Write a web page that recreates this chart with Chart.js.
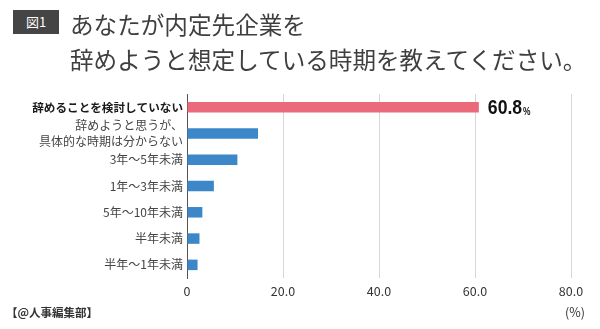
<!DOCTYPE html>
<html>
<head>
<meta charset="utf-8">
<script src="https://cdn.jsdelivr.net/npm/chart.js@4"></script>
<style>
  html, body { margin: 0; padding: 0; background: #fff; }
  #wrap { position: relative; width: 600px; height: 329px; overflow: hidden; font-family: "Noto Sans CJK JP", sans-serif; }
  #chart { position: absolute; left: 0; top: 0; }
  .badge { position: absolute; left: 13px; top: 10px; width: 46px; height: 24px; background: #454545; color: #fff; font-size: 13px; line-height: 24px; text-align: center; }
  .title { position: absolute; left: 70px; top: 7px; font-size: 23.6px; line-height: 35px; color: #3f3f3f; white-space: nowrap; }
  .source { position: absolute; left: 6px; top: 304px; font-size: 11.5px; line-height: 17px; font-weight: bold; color: #333; }
</style>
</head>
<body>
<div id="wrap">
  <canvas id="chart" width="600" height="329"></canvas>
  <div class="badge">図1</div>
  <div class="title">あなたが内定先企業を<br>辞めようと想定している時期を教えてください。</div>
  <div class="source">【@人事編集部】</div>
</div>
<script>
const categories = [
    '辞めることを検討していない',
    ['辞めようと思うが、', '具体的な時期は分からない'],
    '3年～5年未満',
    '1年～3年未満',
    '5年～10年未満',
    '半年未満',
    '半年～1年未満'
];
const values = [60.8, 14.8, 10.5, 5.6, 3.2, 2.6, 2.2];
const xTicks = [0, 20, 40, 60, 80];

const pink = 'rgb(234, 106, 124)';
const blue = 'rgb(60, 135, 200)';

// value label on the top bar plus the (%) unit under the axis
const extraText = {
    id: 'extraText',
    afterDatasetsDraw(chart) {
        const c = chart.ctx;
        const bar = chart.getDatasetMeta(0).data[0];
        c.save();
        c.fillStyle = '#111';
        c.textBaseline = 'middle';
        c.textAlign = 'left';
        const txt = values[0].toFixed(1);
        c.translate(bar.x + 9, bar.y + 1);
        c.scale(0.84, 1);
        c.font = 'bold 21px "Liberation Sans", sans-serif';
        c.fillText(txt, 0, 0);
        const w = c.measureText(txt).width;
        c.font = 'bold 10px "Liberation Sans", sans-serif';
        c.textBaseline = 'alphabetic';
        c.fillText('%', w + 1, 7);
        c.restore();

        const xs = chart.scales.x;
        c.save();
        c.fillStyle = '#333';
        c.font = '12.5px "Noto Sans CJK JP", sans-serif';
        c.textAlign = 'center';
        c.textBaseline = 'middle';
        c.fillText('(%)', xs.getPixelForValue(80) + 4, 312);
        c.restore();
    }
};

new Chart(document.getElementById('chart'), {
    type: 'bar',
    data: {
        labels: categories,
        datasets: [{
            data: values,
            backgroundColor: values.map((v, i) => i === 0 ? pink : blue),
            borderWidth: 0,
            barPercentage: 0.4,
            categoryPercentage: 1
        }]
    },
    options: {
        indexAxis: 'y',
        responsive: false,
        animation: false,
        layout: { padding: { top: 94, right: 29, bottom: 27, left: 0 } },
        plugins: { legend: { display: false }, tooltip: { enabled: false } },
        scales: {
            x: {
                min: 0,
                max: 80,
                afterBuildTicks: s => { s.ticks = xTicks.map(v => ({ value: v })); },
                afterFit: s => { s.height = 24; },
                ticks: {
                    padding: 6,
                    color: '#333',
                    font: { family: '"Noto Sans CJK JP", sans-serif', size: 12.5 },
                    callback: v => v === 0 ? '0' : v.toFixed(1)
                },
                grid: {
                    drawTicks: false,
                    color: ctx => ctx.index === 0 ? 'rgba(0,0,0,0)' : '#d6d6d6'
                },
                border: { display: false }
            },
            y: {
                afterFit: s => { s.width = 187; },
                ticks: {
                    autoSkip: false,
                    padding: 4,
                    color: ctx => ctx.index === 0 ? '#1a1a1a' : '#444',
                    font: ctx => ({
                        family: '"Noto Sans CJK JP", sans-serif',
                        size: ctx.index === 0 ? 11.6 : 12,
                        weight: ctx.index === 0 ? 'bold' : 'normal',
                        lineHeight: 1.27
                    })
                },
                grid: { display: false, drawTicks: false },
                border: { display: true, color: '#555', width: 1 }
            }
        }
    },
    plugins: [extraText]
});
</script>
</body>
</html>
